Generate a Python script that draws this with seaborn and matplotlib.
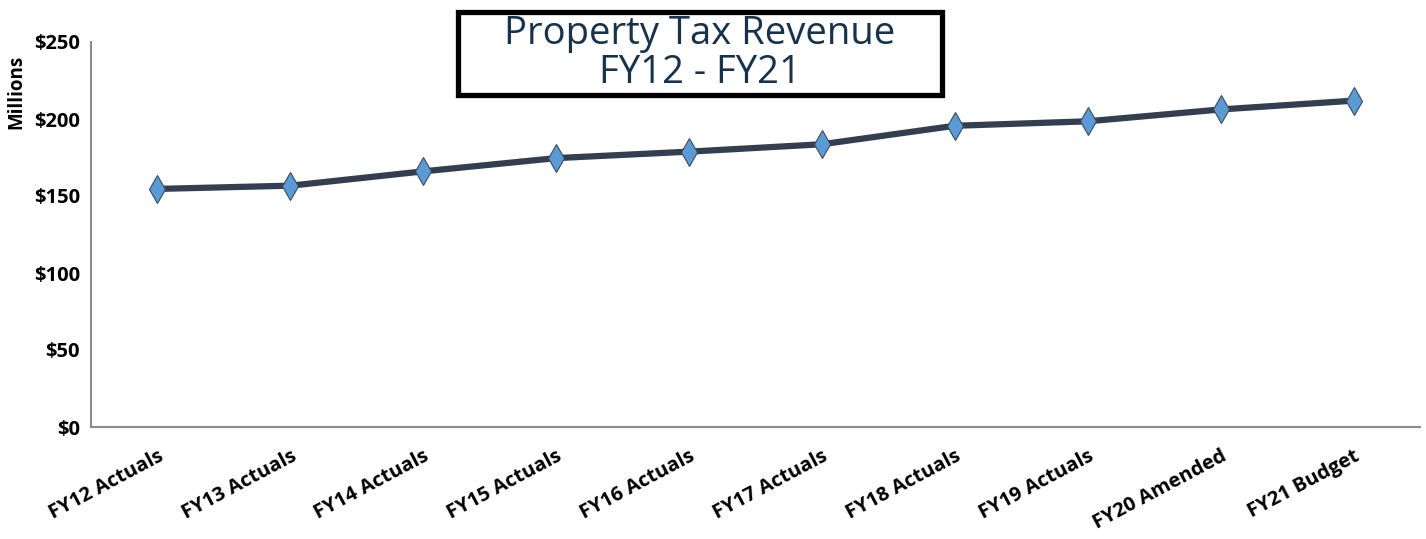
import matplotlib
matplotlib.use("Agg")
import matplotlib.pyplot as plt
import matplotlib.patches as patches
import seaborn as sns
import pandas as pd

categories = ["FY12 Actuals", "FY13 Actuals", "FY14 Actuals", "FY15 Actuals", "FY16 Actuals",
              "FY17 Actuals", "FY18 Actuals", "FY19 Actuals", "FY20 Amended", "FY21 Budget"]
revenue = [154.6, 156.7, 166.0, 174.6, 178.8, 183.6, 195.6, 198.5, 206.2, 211.9]
y_ticks = [0, 50, 100, 150, 200, 250]
y_tick_labels = ["$0", "$50", "$100", "$150", "$200", "$250"]

df = pd.DataFrame({"pos": range(len(categories)), "revenue": revenue})

sns.set_style("white")
plt.rcParams["font.family"] = ["Open Sans", "DejaVu Sans"]

W, H = 1426, 539
fig = plt.figure(figsize=(W / 100, H / 100), dpi=100)
ax = fig.add_axes([91 / W, 1 - 427 / H, (1420 - 91) / W, (427 - 42) / H])

sns.lineplot(x="pos", y="revenue", data=df, ax=ax, color="#333f50", linewidth=4.5,
             marker="d", markersize=14, markerfacecolor="#5b9bd5",
             markeredgecolor="#3b4a5e", markeredgewidth=0.8)

ax.set_xlim(-0.5, len(categories) - 0.5)
ax.set_ylim(0, 250)
ax.set_yticks(y_ticks)
ax.set_yticklabels(y_tick_labels, fontsize=14.5, fontweight="bold", color="black")
ax.set_xticks(range(len(categories)))
ax.set_xticklabels(categories, fontsize=14.5, fontweight="bold", color="black", rotation=28,
                   ha="right", va="top", rotation_mode="anchor")
ax.set_xticks([i - 0.5 for i in range(len(categories) + 1)], minor=True)
ax.tick_params(axis="x", which="major", length=0, pad=14)
ax.tick_params(axis="x", which="minor", length=6, color="#8c8c8c", width=1.2, direction="out")
ax.tick_params(axis="y", length=5, color="#8c8c8c", width=1.2, direction="out", pad=3)

for side in ["top", "right"]:
    ax.spines[side].set_visible(False)
for side in ["left", "bottom"]:
    ax.spines[side].set_color("#8c8c8c")
    ax.spines[side].set_linewidth(1.5)

ax.set_xlabel("")
ax.set_ylabel("Millions", fontsize=13.5, fontweight="bold", color="black")
ax.yaxis.set_label_coords((26 - 91) / 1329, (427 - 92) / 385)

# title box
box = patches.Rectangle((457.5 / W, 1 - 94.5 / H), (942 - 457.5) / W, (94.5 - 12) / H,
                        transform=fig.transFigure, fill=False, edgecolor="black", linewidth=3.8)
fig.patches.append(box)
fig.text(700 / W, 1 - 34 / H, "Property Tax Revenue", ha="center", va="center",
         fontsize=27.5, color="#17324d")
fig.text(700 / W, 1 - 73 / H, "FY12 - FY21", ha="center", va="center",
         fontsize=27.5, color="#17324d")

fig.savefig("out.png", dpi=100)
